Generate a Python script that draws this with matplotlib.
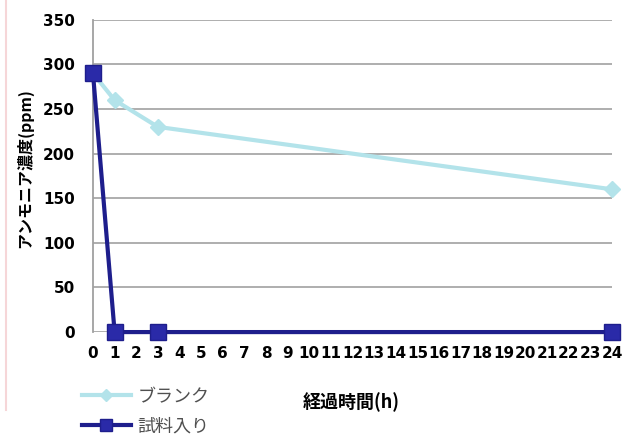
import matplotlib
matplotlib.use("Agg")
import matplotlib.pyplot as plt
from matplotlib.lines import Line2D

plt.rcParams['font.family'] = ['DejaVu Sans', 'Noto Sans CJK JP']

hours = [0, 1, 3, 24]
blank = [290, 260, 230, 160]
sample = [290, 0, 0, 0]
series_names = ['ブランク', '試料入り']
x_ticks = list(range(0, 25))
y_ticks = list(range(0, 351, 50))

fig = plt.figure(figsize=(6.24, 4.41), dpi=100)
ax = fig.add_axes([0.149, 0.247, 0.832, 0.708])

for y in y_ticks:
    ax.axhline(y, color='#a8a8a8', lw=1.3, zorder=0)

ax.plot(hours, blank, color='#b3e3ea', lw=3, marker='D', ms=8,
        mfc='#b3e3ea', mec='#b3e3ea', label=series_names[0], zorder=3, clip_on=False)
ax.plot(hours, sample, color='#1e1e8c', lw=3, marker='s', ms=12,
        mfc='#2a2aa8', mec='#1e1e8c', label=series_names[1], zorder=4, clip_on=False)

ax.set_xlim(0, 24)
ax.set_ylim(0, 350)
ax.set_xticks(x_ticks)
ax.set_yticks(y_ticks)
ax.tick_params(axis='x', length=0, labelsize=11, pad=10)
ax.tick_params(axis='y', length=0, labelsize=11, pad=13)
for lab in ax.get_xticklabels() + ax.get_yticklabels():
    lab.set_fontweight('bold')

for s in ['top', 'right', 'bottom']:
    ax.spines[s].set_visible(False)
ax.spines['left'].set_color('#a0a0a0')
ax.spines['left'].set_linewidth(1.3)

fig.text(0.039, 0.62, 'アンモニア濃度(ppm)', rotation=90, ha='center', va='center',
         fontsize=11.5, fontweight='bold', family=['Noto Sans CJK JP', 'DejaVu Sans'])
fig.text(0.563, 0.088, '経過時間(h)', ha='center', va='center',
         fontsize=13, fontweight='bold', family=['Noto Sans CJK JP', 'DejaVu Sans'])

handles = [
    Line2D([], [], color='#b3e3ea', lw=3, marker='D', ms=6, mfc='#b3e3ea', mec='#b3e3ea'),
    Line2D([], [], color='#1e1e8c', lw=3, marker='s', ms=9, mfc='#2a2aa8', mec='#1e1e8c'),
]
leg = fig.legend(handles, series_names, loc='upper left', bbox_to_anchor=(0.12, 0.137),
                 frameon=False, handlelength=2.7, handletextpad=0.35,
                 labelspacing=0.65, borderaxespad=0,
                 prop={'family': ['Noto Sans CJK JP'], 'size': 13})
for t in leg.get_texts():
    t.set_color('#505050')

# thin rose rule along the left margin
fig.add_artist(Line2D([0.009, 0.009], [0.07, 1.0], transform=fig.transFigure,
                      color='#f6d6d8', lw=1.5))

fig.savefig('out.png', dpi=100)
